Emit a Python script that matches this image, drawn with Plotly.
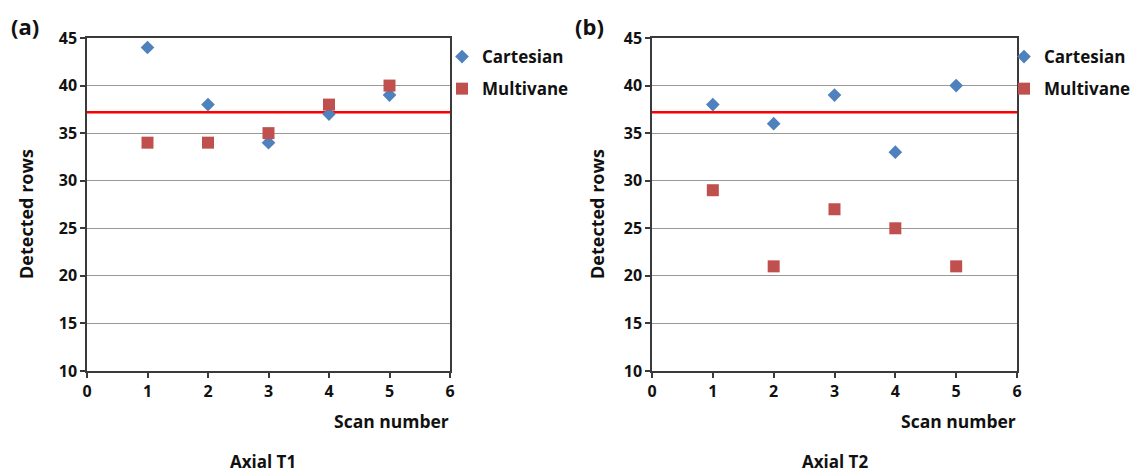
import plotly.graph_objects as go

scans = [1, 2, 3, 4, 5]
t1_cartesian = [44, 38, 34, 37, 39]
t1_multivane = [34, 34, 35, 38, 40]
t2_cartesian = [38, 36, 39, 33, 40]
t2_multivane = [29, 21, 27, 25, 21]
reference_level = 37.2
x_range = [0, 6]
y_range = [10, 45]

# page body has an 8px margin; figure is sized to fill the rest of the window
OFF = 8
W, H = 1138 - OFF, 473 - OFF
FONT = "Open Sans"
TXT = "#111111"
BLUE = "#4F81BD"
RED = "#C0504D"

def px_x(p):
    return (p - OFF) / W

def px_y(p):
    return 1 - (p - OFF) / H

fig = go.Figure()

panels = [
    ("x", "y", t1_cartesian, t1_multivane, "legend", "a"),
    ("x2", "y2", t2_cartesian, t2_multivane, "legend2", "b"),
]
for xa, ya, cart, multi, lg, tag in panels:
    fig.add_trace(go.Scatter(x=x_range, y=[reference_level, reference_level], mode="lines",
                             line=dict(color="#FF0000", width=2.5), showlegend=False,
                             xaxis=xa, yaxis=ya, hoverinfo="skip"))
    fig.add_trace(go.Scatter(x=scans, y=cart, mode="markers", name="Cartesian",
                             legendgroup="c" + tag, legendrank=1,
                             marker=dict(symbol="diamond", size=10.5, color=BLUE,
                                         line=dict(width=0)),
                             xaxis=xa, yaxis=ya, legend=lg))
    fig.add_trace(go.Scatter(x=scans, y=multi, mode="markers", name="Multivane",
                             legendgroup="m" + tag, legendrank=2,
                             marker=dict(symbol="square", size=12, color=RED,
                                         line=dict(width=0)),
                             xaxis=xa, yaxis=ya, legend=lg))

ydom = [px_y(371), px_y(38)]
axis_common = dict(showline=True, linecolor="#3a3a3a", linewidth=1.5, mirror=True,
                   ticks="outside", ticklen=5, tickcolor="#3a3a3a", tickwidth=1.5,
                   tickfont=dict(family=FONT, size=16, color=TXT, weight="bold"),
                   zeroline=False, automargin=False)

legend_common = dict(xanchor="left", yanchor="top", traceorder="grouped",
                     itemwidth=30, tracegroupgap=7,
                     font=dict(family=FONT, size=17, color=TXT, weight="bold"),
                     bgcolor="rgba(0,0,0,0)")

fig.update_layout(
    width=W, height=H,
    margin=dict(l=0, r=0, t=0, b=0, autoexpand=False),
    paper_bgcolor="white", plot_bgcolor="white",
    font=dict(family=FONT, color=TXT),
    xaxis=dict(domain=[px_x(87), px_x(450)], range=x_range, dtick=1, showgrid=False,
               anchor="y", **axis_common),
    yaxis=dict(domain=ydom, range=y_range, dtick=5, showgrid=True, gridcolor="#999999",
               gridwidth=1, anchor="x", **axis_common),
    xaxis2=dict(domain=[px_x(652), px_x(1017)], range=x_range, dtick=1, showgrid=False,
                anchor="y2", **axis_common),
    yaxis2=dict(domain=ydom, range=y_range, dtick=5, showgrid=True, gridcolor="#999999",
                gridwidth=1, anchor="x2", **axis_common),
    legend=dict(x=px_x(442), y=px_y(39), **legend_common),
    legend2=dict(x=px_x(1004), y=px_y(39), **legend_common),
    showlegend=True,
)

def ann(text, x, y, size, xanchor="center", yanchor="middle", angle=0):
    fig.add_annotation(text=text, x=px_x(x), y=px_y(y), xref="paper", yref="paper",
                       showarrow=False, xanchor=xanchor, yanchor=yanchor, textangle=angle,
                       font=dict(family=FONT, size=size, color=TXT, weight="bold"))

ann("(a)", 25, 9, 22, yanchor="top")
ann("(b)", 589, 9, 22, yanchor="top")
ann("Detected rows", 26, 214, 18, angle=-90)
ann("Detected rows", 597, 214, 18, angle=-90)
ann("Scan number", 451, 421, 17.5, xanchor="right")
ann("Scan number", 1018, 421, 17.5, xanchor="right")
ann("Axial T1", 263, 461, 17)
ann("Axial T2", 835, 461, 17)

fig.write_html("out.html")
